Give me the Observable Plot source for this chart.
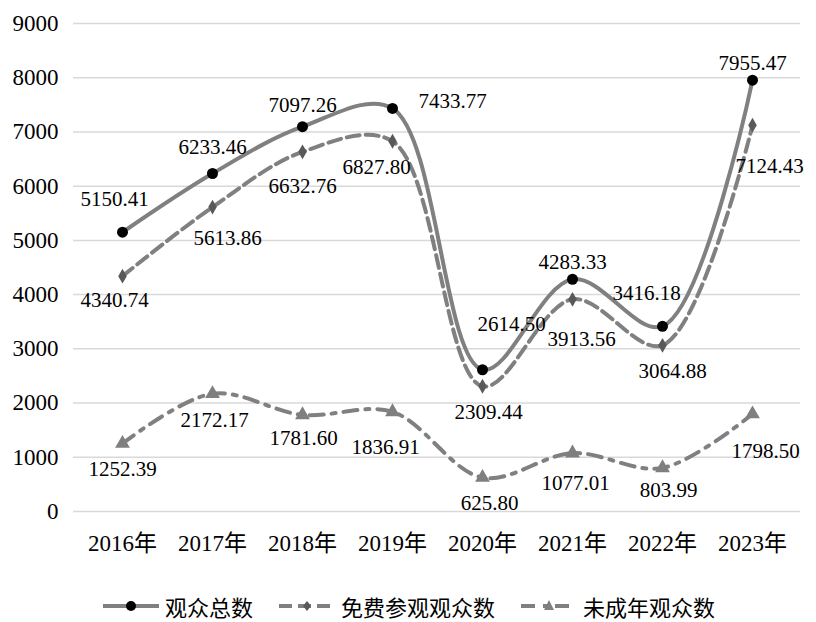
<!DOCTYPE html>
<html>
<head>
<meta charset="utf-8">
<script src="https://cdn.jsdelivr.net/npm/d3@7"></script>
<script src="https://cdn.jsdelivr.net/npm/@observablehq/plot@0.6"></script>
<style>
  body { margin: 0; background: #fff; overflow: hidden; }
  #chart { width: 816px; height: 560px; }
  .legend { display: flex; justify-content: center; align-items: center; margin-top: 33px; height: 26px; line-height: 26px;
    font-family: "Noto Sans CJK SC", sans-serif; font-size: 22px; color: #000; }
  .legend .item { display: flex; align-items: center; margin: 0 12px; }
  .legend svg { margin-right: 4px; }
</style>
</head>
<body>
<div id="chart"></div>
<script>
const years = ["2016年","2017年","2018年","2019年","2020年","2021年","2022年","2023年"];
const total = [5150.41, 6233.46, 7097.26, 7433.77, 2614.50, 4283.33, 3416.18, 7955.47];
const free  = [4340.74, 5613.86, 6632.76, 6827.80, 2309.44, 3913.56, 3064.88, 7124.43];
const minor = [1252.39, 2172.17, 1781.60, 1836.91, 625.80, 1077.01, 803.99, 1798.50];
const yTicks = [0,1000,2000,3000,4000,5000,6000,7000,8000,9000];
const seriesNames = ["观众总数","免费参观观众数","未成年观众数"];

// label offsets (pixels) relative to each point
const totalOff = [[-8,-33],[0,-26],[0,-21],[60,-7],[29,-45],[0,-17],[-16,-33],[0,-17]];
const freeOff  = [[-8,24],[15,31],[0,34],[-16,26],[6,26],[9,40],[10,26],[17,41]];
const minorOff = [[0,26],[2,27],[1,23],[-7,35],[7,26],[3,30],[6,22],[13,37]];

const mk = vals => years.map((y,i) => ({year: y, value: vals[i]}));
const dTotal = mk(total), dFree = mk(free), dMinor = mk(minor);

const fmt = v => v.toFixed(2);
const labels = (data, offs) => data.map((d,i) => Plot.text([d], {
  x: "year", y: "value", text: d => fmt(d.value),
  dx: offs[i][0], dy: offs[i][1], fontSize: 21, fill: "#000", textAnchor: "middle"
}));

const lineColor = "#808080";
const chart = Plot.plot({
  width: 816, height: 560,
  marginLeft: 73, marginRight: 16, marginTop: 23, marginBottom: 49,
  style: {fontFamily: "'Liberation Serif','Noto Sans CJK SC',serif", fontSize: "23px", color: "#000", background: "#fff"},
  x: {type: "point", domain: years, padding: 0.5, label: null},
  y: {domain: [0, 9000], label: null},
  marks: [
    Plot.ruleY(yTicks, {stroke: "#d9d9d9", strokeWidth: 1.5}),
    Plot.axisX({tickSize: 0, tickPadding: 23, label: null, fontSize: 23}),
    Plot.axisY({ticks: yTicks, tickFormat: d => String(d), tickSize: 0, tickPadding: 15, label: null, fontSize: 23}),
    Plot.line(dMinor, {x: "year", y: "value", curve: "catmull-rom", stroke: lineColor, strokeWidth: 4, strokeDasharray: "14,8,4,8"}),
    Plot.line(dFree, {x: "year", y: "value", curve: "catmull-rom", stroke: lineColor, strokeWidth: 4, strokeDasharray: "13,6"}),
    Plot.line(dTotal, {x: "year", y: "value", curve: "catmull-rom", stroke: lineColor, strokeWidth: 4}),
    Plot.dot(dMinor, {x: "year", y: "value", symbol: "triangle", r: 5.5, fill: "#7f7f7f"}),
    Plot.dot(dFree, {x: "year", y: "value", symbol: "diamond", r: 4.5, fill: "#595959"}),
    Plot.dot(dTotal, {x: "year", y: "value", r: 5.5, fill: "#000"}),
    ...labels(dTotal, totalOff),
    ...labels(dFree, freeOff),
    ...labels(dMinor, minorOff)
  ]
});
document.getElementById("chart").appendChild(chart);

// legend
const legend = document.createElement("div");
legend.className = "legend";
const swatches = [
  `<line x1="2" y1="12" x2="58" y2="12" stroke="${lineColor}" stroke-width="4"/><circle cx="30" cy="12" r="5" fill="#000"/>`,
  `<line x1="2" y1="12" x2="58" y2="12" stroke="${lineColor}" stroke-width="4" stroke-dasharray="13,6"/><path d="M30,7 L34,12 L30,17 L26,12Z" fill="#595959"/>`,
  `<line x1="2" y1="12" x2="58" y2="12" stroke="${lineColor}" stroke-width="4" stroke-dasharray="14,8,4,8"/><path d="M30,6 L35,16 L25,16Z" fill="#7f7f7f"/>`
];
seriesNames.forEach((name, i) => {
  const item = document.createElement("div");
  item.className = "item";
  item.innerHTML = `<svg width="60" height="24">${swatches[i]}</svg><span>${name}</span>`;
  legend.appendChild(item);
});
document.body.appendChild(legend);
</script>
</body>
</html>
